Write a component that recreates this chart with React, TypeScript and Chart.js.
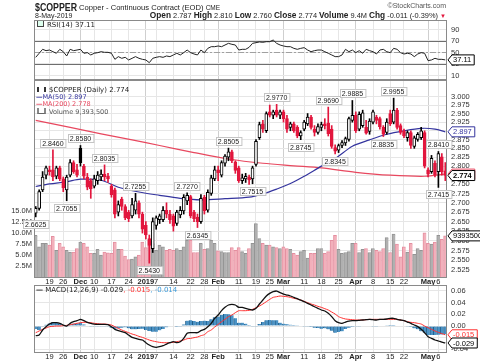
import React, { useEffect, useRef } from 'react';
import { Chart, registerables } from 'chart.js';

Chart.register(...registerables);

const FONT = '"Liberation Sans", Arial, sans-serif';
const LEG = '"DejaVu Sans", Verdana, sans-serif';

// ---- categories (trading days) ----
const NOV = [13, 14, 15, 16, 19, 20, 21, 23, 26, 27, 28, 29, 30];
const DEC = [3, 4, 6, 7, 10, 11, 12, 13, 14, 17, 18, 19, 20, 21, 24, 26, 27, 28, 31];
const JAN = [2, 3, 4, 7, 8, 9, 10, 11, 14, 15, 16, 17, 18, 22, 23, 24, 25, 28, 29, 30, 31];
const FEB = [1, 4, 5, 6, 7, 8, 11, 12, 13, 14, 15, 19, 20, 21, 22, 25, 26, 27, 28];
const MAR = [1, 4, 5, 6, 7, 8, 11, 12, 13, 14, 15, 18, 19, 20, 21, 22, 25, 26, 27, 28, 29];
const APR = [1, 2, 3, 4, 5, 8, 9, 10, 11, 12, 15, 16, 17, 18, 22, 23, 24, 25, 26, 29, 30];
const MAY = [1, 2, 3, 6, 7, 8];
const dates: string[] = [
  ...NOV.map((d) => `2018-11-${d}`),
  ...DEC.map((d) => `2018-12-${d}`),
  ...JAN.map((d) => `2019-01-${d}`),
  ...FEB.map((d) => `2019-02-${d}`),
  ...MAR.map((d) => `2019-03-${d}`),
  ...APR.map((d) => `2019-04-${d}`),
  ...MAY.map((d) => `2019-05-${d}`),
];

// ---- x tick labels ----
const xTickIdx = [4, 8, 13, 17, 22, 27, 32, 35, 40, 45, 49, 53, 59, 64, 68, 72, 78, 83, 88, 93, 98, 103, 107, 114, 117];
const xTickText = ['19', '26', 'Dec', '10', '17', '24', '2019', '7', '14', '22', '28', 'Feb', '11', '19', '25', 'Mar', '11', '18', '25', 'Apr', '8', '15', '22', 'May', '6'];
const xTickBold = ['Dec', '2019', 'Feb', 'Mar', 'Apr', 'May'];

// ---- OHLC ----
const opens = [
  2.672, 2.685, 2.735, 2.775, 2.790, 2.790, 2.772, 2.795, 2.765, 2.735,
  2.775, 2.810, 2.790, 2.850, 2.800, 2.770, 2.760, 2.745, 2.760, 2.770,
  2.778, 2.772, 2.745, 2.735, 2.675, 2.710, 2.690, 2.675, 2.665, 2.680,
  2.700, 2.670, 2.640, 2.606, 2.580, 2.640, 2.655, 2.655, 2.680, 2.670,
  2.665, 2.645, 2.668, 2.678, 2.705, 2.717, 2.675, 2.662, 2.650, 2.715,
  2.680, 2.725, 2.765, 2.790, 2.775, 2.808, 2.825, 2.840, 2.812, 2.795,
  2.760, 2.765, 2.770, 2.765, 2.805, 2.880, 2.920, 2.900, 2.955, 2.945,
  2.960, 2.945, 2.955, 2.935, 2.910, 2.920, 2.910, 2.885, 2.905, 2.920,
  2.940, 2.905, 2.895, 2.910, 2.920, 2.922, 2.905, 2.852, 2.845, 2.858,
  2.865, 2.875, 2.930, 2.945, 2.905, 2.915, 2.910, 2.898, 2.925, 2.940,
  2.935, 2.910, 2.895, 2.950, 2.925, 2.960, 2.915, 2.900, 2.880, 2.895,
  2.855, 2.875, 2.880, 2.895, 2.790, 2.785, 2.808, 2.785, 2.826, 2.787,
];
const highs = [
  2.690, 2.735, 2.785, 2.800, 2.800, 2.846, 2.800, 2.800, 2.770, 2.775,
  2.818, 2.815, 2.805, 2.858, 2.805, 2.780, 2.765, 2.775, 2.785, 2.790,
  2.8035, 2.780, 2.750, 2.740, 2.705, 2.715, 2.695, 2.680, 2.712, 2.7255,
  2.705, 2.675, 2.650, 2.615, 2.660, 2.665, 2.670, 2.690, 2.700, 2.680,
  2.670, 2.680, 2.690, 2.722, 2.727, 2.720, 2.680, 2.670, 2.722, 2.720,
  2.735, 2.775, 2.800, 2.800, 2.815, 2.832, 2.8505, 2.845, 2.815, 2.800,
  2.778, 2.780, 2.775, 2.800, 2.875, 2.925, 2.930, 2.955, 2.975, 2.960,
  2.977, 2.960, 2.960, 2.945, 2.925, 2.925, 2.915, 2.900, 2.930, 2.950,
  2.945, 2.915, 2.920, 2.925, 2.935, 2.969, 2.915, 2.860, 2.862, 2.872,
  2.882, 2.940, 2.9885, 2.955, 2.955, 2.960, 2.930, 2.935, 2.960, 2.945,
  2.940, 2.915, 2.935, 2.960, 2.9955, 2.965, 2.920, 2.905, 2.900, 2.900,
  2.885, 2.895, 2.910, 2.900, 2.795, 2.830, 2.815, 2.841, 2.835, 2.810,
];
const lows = [
  2.6625, 2.680, 2.730, 2.765, 2.775, 2.760, 2.765, 2.760, 2.730, 2.7055,
  2.770, 2.780, 2.770, 2.800, 2.765, 2.735, 2.712, 2.740, 2.750, 2.760,
  2.760, 2.755, 2.715, 2.660, 2.665, 2.680, 2.655, 2.650, 2.660, 2.670,
  2.660, 2.620, 2.605, 2.543, 2.570, 2.630, 2.645, 2.650, 2.660, 2.645,
  2.625, 2.640, 2.660, 2.670, 2.695, 2.660, 2.650, 2.6345, 2.645, 2.670,
  2.675, 2.720, 2.760, 2.760, 2.770, 2.800, 2.815, 2.810, 2.780, 2.755,
  2.752, 2.755, 2.750, 2.7515, 2.800, 2.875, 2.895, 2.895, 2.940, 2.935,
  2.940, 2.935, 2.925, 2.895, 2.900, 2.895, 2.880, 2.8745, 2.900, 2.915,
  2.905, 2.885, 2.890, 2.900, 2.905, 2.885, 2.850, 2.8345, 2.838, 2.852,
  2.858, 2.870, 2.925, 2.895, 2.900, 2.910, 2.890, 2.890, 2.920, 2.920,
  2.905, 2.8835, 2.890, 2.915, 2.920, 2.905, 2.890, 2.880, 2.870, 2.850,
  2.850, 2.870, 2.875, 2.795, 2.770, 2.780, 2.770, 2.7415, 2.775, 2.760,
];
const closes = [
  2.685, 2.730, 2.770, 2.795, 2.785, 2.770, 2.795, 2.765, 2.740, 2.770,
  2.810, 2.785, 2.775, 2.810, 2.772, 2.742, 2.738, 2.765, 2.775, 2.778,
  2.770, 2.765, 2.722, 2.670, 2.695, 2.690, 2.660, 2.658, 2.695, 2.705,
  2.670, 2.630, 2.615, 2.588, 2.650, 2.660, 2.665, 2.680, 2.670, 2.655,
  2.638, 2.675, 2.680, 2.715, 2.720, 2.665, 2.658, 2.650, 2.712, 2.678,
  2.728, 2.768, 2.790, 2.782, 2.810, 2.828, 2.840, 2.815, 2.788, 2.760,
  2.768, 2.772, 2.762, 2.795, 2.870, 2.918, 2.905, 2.950, 2.945, 2.955,
  2.945, 2.955, 2.935, 2.905, 2.920, 2.900, 2.885, 2.895, 2.925, 2.940,
  2.910, 2.895, 2.912, 2.918, 2.915, 2.892, 2.855, 2.842, 2.858, 2.866,
  2.878, 2.935, 2.945, 2.900, 2.948, 2.952, 2.893, 2.928, 2.955, 2.930,
  2.912, 2.890, 2.925, 2.920, 2.960, 2.910, 2.895, 2.885, 2.895, 2.858,
  2.880, 2.890, 2.900, 2.800, 2.778, 2.822, 2.776, 2.835, 2.785, 2.774,
];
// volume, millions
const volumesM = [
  9.5, 6.9, 7.7, 7.7, 7.3, 9.3, 6.1, 7.7, 6.9, 6.1,
  5.7, 5.7, 6.5, 8.0, 7.7, 6.9, 5.4, 5.4, 6.3, 5.0,
  5.7, 5.5, 5.4, 8.0, 6.3, 6.3, 4.8, 4.0, 4.1, 4.6,
  5.0, 8.0, 6.7, 8.5, 7.7, 6.1, 7.3, 6.9, 6.1, 6.3,
  6.1, 6.5, 6.1, 6.9, 8.4, 8.4, 5.6, 5.6, 7.7, 6.3,
  6.5, 8.4, 7.7, 6.0, 5.8, 5.6, 5.6, 6.7, 6.1, 6.7,
  5.8, 5.4, 6.5, 7.7, 12.2, 8.8, 7.7, 7.3, 7.3, 6.9,
  6.7, 6.5, 6.9, 6.5, 6.3, 5.4, 5.0, 5.8, 6.1, 4.3,
  5.4, 5.4, 6.5, 6.5, 5.4, 5.8, 8.4, 9.5, 6.3, 5.4,
  5.6, 5.8, 7.7, 7.7, 5.6, 6.3, 6.5, 5.6, 6.5, 6.1,
  5.8, 6.5, 9.0, 5.6, 9.8, 7.5, 4.6, 6.9, 5.7, 7.7,
  5.2, 6.5, 6.1, 10.1, 7.7, 7.5, 8.0, 9.5, 8.6, 9.3935,
];
// moving averages (index, value)
const ma50Idx = [0, 4, 9, 13, 19, 24, 30, 36, 42, 48, 55, 62, 66, 70, 74, 78, 83, 87, 92, 97, 102, 107, 112, 116, 119];
const ma50Val = [2.744, 2.751, 2.757, 2.764, 2.761, 2.742, 2.729, 2.720, 2.712, 2.708, 2.711, 2.715, 2.724, 2.737, 2.752, 2.772, 2.800, 2.821, 2.856, 2.874, 2.890, 2.900, 2.907, 2.905, 2.897];
const ma200Idx = [0, 10, 19, 28, 36, 46, 56, 66, 75, 83, 93, 103, 113, 119];
const ma200Val = [2.930, 2.910, 2.891, 2.874, 2.858, 2.838, 2.820, 2.808, 2.801, 2.795, 2.783, 2.775, 2.772, 2.778];

const rsi = [
  41.6, 48.6, 55.5, 53.2, 54.3, 51.4, 48.6, 55.5, 51.4, 43.9,
  55.5, 53.2, 54.3, 55.5, 48.6, 49.7, 45.7, 48.6, 49.7, 51.4,
  50.3, 50.3, 48.6, 38.1, 42.8, 39.9, 41.6, 37.0, 39.9, 42.8,
  39.9, 38.1, 37.0, 32.3, 39.9, 41.6, 42.8, 41.6, 43.9, 42.8,
  45.7, 48.6, 45.7, 49.7, 54.3, 49.7, 47.4, 45.7, 54.3, 49.7,
  57.2, 60.1, 60.1, 61.3, 60.1, 63.0, 65.9, 64.2, 63.0, 54.3,
  55.5, 55.5, 59.0, 65.9, 67.1, 68.3, 67.7, 68.8, 68.8, 71.7,
  65.9, 63.0, 61.3, 60.1, 60.1, 57.2, 55.5, 57.2, 58.4, 54.3,
  51.4, 53.2, 54.3, 54.3, 51.4, 48.6, 45.7, 42.8, 42.8, 45.7,
  55.5, 51.4, 54.3, 49.7, 53.2, 48.6, 55.5, 53.2, 51.4, 47.4,
  54.3, 55.5, 51.4, 49.7, 57.2, 55.5, 49.7, 47.4, 48.6, 47.4,
  42.8, 47.4, 49.7, 48.6, 35.8, 37.0, 39.9, 38.1, 38.1, 37.11,
];
const macd = [
  -0.0165, -0.0154, -0.0068, -0.0011, 0.0034, 0.0057, 0.0057, 0.0046, 0.0017, 0.0000,
  0.0046, 0.0074, 0.0091, 0.0114, 0.0091, 0.0063, 0.0046, 0.0034, 0.0028, 0.0028,
  0.0028, 0.0023, -0.0011, -0.0057, -0.0080, -0.0097, -0.0114, -0.0154, -0.0194, -0.0211,
  -0.0228, -0.0239, -0.0285, -0.0325, -0.0353, -0.0365, -0.0353, -0.0336, -0.0308, -0.0285,
  -0.0268, -0.0285, -0.0268, -0.0211, -0.0125, -0.0114, -0.0114, -0.0114, -0.0080, -0.0057,
  -0.0011, 0.0046, 0.0131, 0.0188, 0.0262, 0.0319, 0.0359, 0.0370, 0.0359, 0.0319,
  0.0319, 0.0302, 0.0285, 0.0274, 0.0302, 0.0376, 0.0444, 0.0513, 0.0558, 0.0587,
  0.0598, 0.0570, 0.0547, 0.0530, 0.0513, 0.0490, 0.0467, 0.0444, 0.0416, 0.0387,
  0.0359, 0.0330, 0.0302, 0.0274, 0.0256, 0.0217, 0.0160, 0.0091, 0.0057, 0.0046,
  0.0068, 0.0085, 0.0091, 0.0091, 0.0097, 0.0103, 0.0108, 0.0114, 0.0108, 0.0103,
  0.0114, 0.0114, 0.0120, 0.0131, 0.0131, 0.0114, 0.0103, 0.0091, 0.0068, 0.0046,
  0.0017, -0.0011, -0.0057, -0.0114, -0.0182, -0.0211, -0.0239, -0.0256, -0.0275, -0.0290,
];
const signal = [
  -0.0114, -0.0085, -0.0057, -0.0034, -0.0011, -0.0006, 0.0000, 0.0000, 0.0006, 0.0011,
  0.0023, 0.0034, 0.0046, 0.0057, 0.0063, 0.0063, 0.0057, 0.0046, 0.0040, 0.0034,
  0.0034, 0.0028, 0.0017, -0.0011, -0.0040, -0.0068, -0.0091, -0.0114, -0.0137, -0.0154,
  -0.0177, -0.0194, -0.0217, -0.0239, -0.0256, -0.0268, -0.0279, -0.0285, -0.0285, -0.0285,
  -0.0279, -0.0268, -0.0256, -0.0239, -0.0217, -0.0211, -0.0199, -0.0188, -0.0165, -0.0148,
  -0.0097, -0.0068, -0.0017, 0.0028, 0.0074, 0.0114, 0.0160, 0.0188, 0.0228, 0.0262,
  0.0262, 0.0262, 0.0268, 0.0285, 0.0313, 0.0342, 0.0376, 0.0416, 0.0456, 0.0490,
  0.0501, 0.0513, 0.0507, 0.0501, 0.0490, 0.0473, 0.0462, 0.0444, 0.0422, 0.0399,
  0.0376, 0.0359, 0.0336, 0.0319, 0.0296, 0.0274, 0.0239, 0.0205, 0.0160, 0.0137,
  0.0120, 0.0114, 0.0108, 0.0103, 0.0103, 0.0103, 0.0108, 0.0114, 0.0114, 0.0114,
  0.0114, 0.0114, 0.0114, 0.0114, 0.0114, 0.0114, 0.0103, 0.0091, 0.0074, 0.0063,
  0.0057, 0.0046, 0.0034, 0.0000, -0.0028, -0.0057, -0.0085, -0.0108, -0.0131, -0.0150,
];

// annotated highs / lows
const hiIdx = [5, 13, 20, 29, 44, 56, 70, 85, 92, 104, 117];
const hiVal = [2.846, 2.858, 2.8035, 2.7255, 2.727, 2.8505, 2.977, 2.969, 2.9885, 2.9955, 2.841];
const loIdx = [0, 9, 33, 47, 63, 77, 87, 101, 117];
const loVal = [2.6625, 2.7055, 2.543, 2.6345, 2.7515, 2.8745, 2.8345, 2.8835, 2.7415];

// axis ticks
const priceTicks = [2.525, 2.55, 2.575, 2.6, 2.625, 2.65, 2.675, 2.7, 2.725, 2.75, 2.775, 2.8, 2.825, 2.85, 2.875, 2.9, 2.925, 2.95, 2.975, 3.0];
const volTicksM = [2.5, 5, 7.5, 10, 12.5, 15];
const rsiTicks = [10, 30, 50, 70, 90];
const macdTicks = [-0.04, -0.02, 0, 0.02, 0.04, 0.06];

const RED = '#e2163d';
const BLUE = '#34349e';
const MA200C = '#e8485f';

function xScale(show: boolean): any {
  return {
    type: 'category',
    offset: true,
    border: { display: false },
    grid: {
      offset: false,
      drawTicks: false,
      color: (c: any) => (xTickBold.includes(xTickText[c.index]) ? '#cfcfcf' : '#e6e6e6'),
    },
    afterBuildTicks: (s: any) => {
      s.ticks = xTickIdx.map((v) => ({ value: v }));
    },
    afterFit: (s: any) => {
      s.height = show ? 10 : 0;
    },
    ticks: {
      display: show,
      autoSkip: false,
      maxRotation: 0,
      padding: 0,
      color: '#222',
      font: (c: any) => ({ family: FONT, size: 7.5, weight: xTickBold.includes(xTickText[c.index]) ? 'bold' : 'normal' }),
      callback: (_v: any, i: number) => xTickText[i],
    },
  };
}

function rightAxis(ticks: number[], fmt: (v: number) => string, extra: any): any {
  return {
    position: 'right',
    border: { display: false },
    grid: { color: '#e6e6e6', drawTicks: false },
    afterBuildTicks: (s: any) => {
      s.ticks = ticks.map((v) => ({ value: v }));
    },
    afterFit: (s: any) => {
      s.width = 33;
    },
    ticks: { autoSkip: false, padding: 4, color: '#333', font: { family: FONT, size: 7.5 }, callback: (v: any) => fmt(Number(v)) },
    ...extra,
  };
}

function drawTag(ctx: CanvasRenderingContext2D, x: number, y: number, text: string, stroke: string, color: string, bold = false) {
  ctx.save();
  ctx.font = `${bold ? 'bold ' : ''}7.5px ${FONT}`;
  const tw = ctx.measureText(text).width;
  const h = 10;
  const x1 = x + tw + 8;
  ctx.beginPath();
  ctx.moveTo(x, y);
  ctx.lineTo(x + 4, y - h / 2);
  ctx.lineTo(x1, y - h / 2);
  ctx.lineTo(x1, y + h / 2);
  ctx.lineTo(x + 4, y + h / 2);
  ctx.closePath();
  ctx.fillStyle = '#fff';
  ctx.fill();
  ctx.strokeStyle = stroke;
  ctx.lineWidth = 1;
  ctx.stroke();
  ctx.fillStyle = color;
  ctx.textAlign = 'left';
  ctx.textBaseline = 'middle';
  ctx.fillText(text, x + 5, y + 0.5);
  ctx.restore();
}

function drawNote(ctx: CanvasRenderingContext2D, x: number, y: number, text: string, above: boolean) {
  ctx.save();
  ctx.font = `7px ${FONT}`;
  const w = ctx.measureText(text).width + 4;
  const h = 8;
  const bx = Math.round(x - w / 2) + 0.5;
  const by = Math.round(above ? y - 3 - h : y + 3) + 0.5;
  ctx.fillStyle = 'rgba(255,255,255,0.92)';
  ctx.fillRect(bx, by, w, h);
  ctx.strokeStyle = '#c4c4c4';
  ctx.lineWidth = 1;
  ctx.strokeRect(bx, by, w, h);
  ctx.fillStyle = '#222';
  ctx.textAlign = 'center';
  ctx.textBaseline = 'middle';
  ctx.fillText(text, x, by + h / 2 + 0.5);
  ctx.restore();
}

function drawBorder(chart: any) {
  const { ctx, chartArea: a } = chart;
  ctx.save();
  ctx.strokeStyle = '#8a8a8a';
  ctx.lineWidth = 1;
  ctx.strokeRect(a.left + 0.5, a.top + 0.5, a.right - a.left - 1, a.bottom - a.top);
  ctx.restore();
}

const base: any = {
  responsive: false,
  animation: false,
  events: [],
  plugins: { legend: { display: false }, tooltip: { enabled: false } },
};

export default function App() {
  const rsiRef = useRef<HTMLCanvasElement>(null);
  const mainRef = useRef<HTMLCanvasElement>(null);
  const macdRef = useRef<HTMLCanvasElement>(null);

  useEffect(() => {
    const charts: Chart[] = [];
    const n = closes.length;
    const up = closes.map((c, i) => c >= (i > 0 ? closes[i - 1] : opens[i]));
    const cColor = up.map((u) => (u ? '#000' : RED));
    const bodyFill = closes.map((c, i) => (c > opens[i] ? '#fff' : cColor[i]));
    const volFill = up.map((u) => (u ? '#b0b0b0' : '#f2b0bb'));
    const volEdge = up.map((u) => (u ? '#949494' : '#e48fa0'));

    // ---- RSI ----
    charts.push(
      new Chart(rsiRef.current!, {
        type: 'line',
        data: {
          labels: dates,
          datasets: [{ data: rsi, borderColor: '#222', borderWidth: 1, pointRadius: 0, tension: 0 }],
        },
        options: {
          ...base,
          layout: { padding: { top: 10, bottom: 10, left: 34, right: 0 } },
          scales: {
            x: xScale(false),
            y: rightAxis(rsiTicks, (v) => String(v), { min: 3.9, max: 106.5 }),
          },
        },
        plugins: [
          {
            id: 'rsiDeco',
            beforeDatasetsDraw(chart: any) {
              const { ctx, chartArea: a, scales } = chart;
              const y = scales.y;
              ctx.save();
              ctx.strokeStyle = '#6e6e6e';
              ctx.lineWidth = 1;
              [70, 30].forEach((v) => {
                const p = Math.round(y.getPixelForValue(v)) + 0.5;
                ctx.beginPath();
                ctx.moveTo(a.left, p);
                ctx.lineTo(a.right, p);
                ctx.stroke();
              });
              ctx.strokeStyle = '#a0a0a0';
              ctx.setLineDash([6, 2, 2, 2]);
              const p = Math.round(y.getPixelForValue(50)) + 0.5;
              ctx.beginPath();
              ctx.moveTo(a.left, p);
              ctx.lineTo(a.right, p);
              ctx.stroke();
              ctx.restore();
            },
            afterDatasetsDraw(chart: any) {
              drawBorder(chart);
              const { ctx, chartArea: a, scales } = chart;
              const last = rsi[n - 1];
              drawTag(ctx, a.right + 1, scales.y.getPixelForValue(last), last.toFixed(2), '#000', '#000');
            },
          },
        ],
      } as any)
    );

    // ---- main price + volume ----
    charts.push(
      new Chart(mainRef.current!, {
        type: 'bar',
        data: {
          labels: dates,
          datasets: [
            {
              type: 'bar',
              data: opens.map((o, i) => [o, closes[i]]),
              backgroundColor: bodyFill,
              borderColor: cColor,
              borderWidth: 1,
              borderSkipped: false,
              barThickness: 3,
              minBarLength: 1,
              grouped: false,
              yAxisID: 'y',
              order: 0,
            },
            {
              type: 'bar',
              data: lows.map((l, i) => [l, highs[i]]),
              backgroundColor: cColor,
              borderWidth: 0,
              barThickness: 1,
              grouped: false,
              yAxisID: 'y',
              order: 1,
            },
            {
              type: 'line',
              data: ma50Idx.map((ix, k) => ({ x: dates[ix], y: ma50Val[k] })),
              borderColor: BLUE,
              borderWidth: 1.2,
              pointRadius: 0,
              tension: 0.3,
              yAxisID: 'y',
              order: 2,
            },
            {
              type: 'line',
              data: ma200Idx.map((ix, k) => ({ x: dates[ix], y: ma200Val[k] })),
              borderColor: MA200C,
              borderWidth: 1.2,
              pointRadius: 0,
              tension: 0.3,
              yAxisID: 'y',
              order: 3,
            },
            {
              type: 'bar',
              data: volumesM.map((v) => v * 1e6),
              backgroundColor: volFill,
              borderColor: volEdge,
              borderWidth: { left: 1, right: 0, top: 1, bottom: 0 },
              barThickness: 3.4,
              grouped: false,
              yAxisID: 'vol',
              order: 4,
            },
          ],
        },
        options: {
          ...base,
          layout: { padding: { top: 10, bottom: 2, left: 0, right: 0 } },
          scales: {
            x: xScale(true),
            y: rightAxis(priceTicks, (v) => v.toFixed(3), { type: 'logarithmic', min: 2.5083, max: 3.0499 }),
            vol: {
              type: 'linear',
              position: 'left',
              min: 0,
              max: 45e6,
              border: { display: false },
              grid: { display: false, drawTicks: false },
              afterBuildTicks: (s: any) => {
                s.ticks = volTicksM.map((v) => ({ value: v * 1e6 }));
              },
              afterFit: (s: any) => {
                s.width = 34;
              },
              ticks: {
                autoSkip: false,
                padding: 2,
                color: '#333',
                font: { family: FONT, size: 7.5 },
                callback: (v: any) => (Number(v) / 1e6).toFixed(1) + 'M',
              },
            },
          },
        },
        plugins: [
          {
            id: 'mainDeco',
            afterDatasetsDraw(chart: any) {
              drawBorder(chart);
              const { ctx, chartArea: a, scales } = chart;
              const xs = scales.x;
              const ys = scales.y;
              hiIdx.forEach((ix, k) => drawNote(ctx, xs.getPixelForValue(ix), ys.getPixelForValue(hiVal[k]), hiVal[k].toFixed(4), true));
              loIdx.forEach((ix, k) => drawNote(ctx, xs.getPixelForValue(ix), ys.getPixelForValue(loVal[k]), loVal[k].toFixed(4), false));
              const m50 = ma50Val[ma50Val.length - 1];
              const m200 = ma200Val[ma200Val.length - 1];
              const cl = closes[n - 1];
              const vl = volumesM[n - 1] * 1e6;
              drawTag(ctx, a.right + 1, ys.getPixelForValue(m50), m50.toFixed(3), BLUE, BLUE);
              drawTag(ctx, a.right + 1, scales.vol.getPixelForValue(vl), String(Math.round(vl)), '#000', '#000');
              drawTag(ctx, a.right + 1, ys.getPixelForValue(m200), m200.toFixed(3), MA200C, MA200C);
              drawTag(ctx, a.right + 1, ys.getPixelForValue(cl), cl.toFixed(3), '#000', '#000', true);
            },
          },
        ],
      } as any)
    );

    // ---- MACD ----
    charts.push(
      new Chart(macdRef.current!, {
        type: 'bar',
        data: {
          labels: dates,
          datasets: [
            {
              type: 'line',
              data: macd,
              borderColor: '#111',
              borderWidth: 1.3,
              pointRadius: 0,
              tension: 0.2,
              order: 0,
            },
            {
              type: 'line',
              data: signal,
              borderColor: '#ff3030',
              borderWidth: 1,
              pointRadius: 0,
              tension: 0.2,
              order: 1,
            },
            {
              type: 'bar',
              data: macd.map((m, i) => m - signal[i]),
              backgroundColor: '#4b93c6',
              borderColor: '#1f5e8a',
              borderWidth: { left: 1, right: 0, top: 0, bottom: 0 },
              borderSkipped: false,
              barThickness: 3.4,
              grouped: false,
              order: 2,
            },
          ],
        },
        options: {
          ...base,
          layout: { padding: { top: 10, bottom: 1, left: 34, right: 0 } },
          scales: {
            x: xScale(true),
            y: rightAxis(macdTicks, (v) => v.toFixed(2), { min: -0.0444, max: 0.0701 }),
          },
        },
        plugins: [
          {
            id: 'macdDeco',
            afterDatasetsDraw(chart: any) {
              drawBorder(chart);
              const { ctx, chartArea: a, scales } = chart;
              const s = signal[n - 1];
              const m = macd[n - 1];
              drawTag(ctx, a.right + 1, scales.y.getPixelForValue(s), s.toFixed(3), '#ff3030', '#ff3030');
              drawTag(ctx, a.right + 1, scales.y.getPixelForValue(m), m.toFixed(3), '#000', '#000');
            },
          },
        ],
      } as any)
    );

    return () => charts.forEach((c) => c.destroy());
  }, []);

  const abs = (left: number, top: number, extra: any = {}): any => ({
    position: 'absolute',
    left,
    top,
    whiteSpace: 'nowrap',
    ...extra,
  });
  const lastClose = closes[closes.length - 1];
  const lastVol = volumesM[volumesM.length - 1] * 1e6;
  const lb = { fontSize: 8.3 };

  return (
    <div style={{ position: 'fixed', left: 0, top: 0, width: 480, height: 363, background: '#fff', overflow: 'hidden', fontFamily: FONT, color: '#222' }}>
      <canvas ref={rsiRef} width={480} height={79} style={{ position: 'absolute', left: 0, top: 10, display: 'block' }} />
      <canvas ref={mainRef} width={480} height={219} style={{ position: 'absolute', left: 0, top: 70, display: 'block' }} />
      <canvas ref={macdRef} width={480} height={88} style={{ position: 'absolute', left: 0, top: 275, display: 'block' }} />

      {/* header */}
      <div style={abs(35, 1, { fontSize: 11, lineHeight: '12px', fontWeight: 'bold', transform: 'scaleX(0.8)', transformOrigin: 'left top' })}>$COPPER</div>
      <div style={abs(79, 3, { fontSize: 7.6, lineHeight: '9px' })}>
        Copper - Continuous Contract (EOD) <span style={{ fontSize: 6.5 }}>CME</span>
      </div>
      <div style={abs(0, 1, { left: 'auto', right: 34, fontSize: 7, lineHeight: '9px', color: '#555' })}>©StockCharts.com</div>
      <div style={abs(35, 11, { fontSize: 7, lineHeight: '9px' })}>8-May-2019</div>
      <div style={abs(0, 11, { left: 'auto', right: 34, fontSize: 7.4, lineHeight: '9px' })}>
        <b style={lb}>Open</b> 2.787 <b style={lb}>High</b> 2.810 <b style={lb}>Low</b> 2.760 <b style={lb}>Close</b> {lastClose.toFixed(3)}{' '}
        <b style={lb}>Volume</b> 9.4M <b style={lb}>Chg</b> -0.011 (-0.39%) <span style={{ color: RED, fontSize: 6 }}>▼</span>
      </div>

      {/* RSI legend */}
      <div style={abs(37, 21, { fontFamily: LEG, fontSize: 7, lineHeight: '8px' })}>
        <span style={{ display: 'inline-block', width: 5, height: 5, border: '1px solid #444', borderTop: 'none', marginRight: 3, background: '#dfe' }} />
        RSI(14) {rsi[rsi.length - 1].toFixed(2)}
      </div>

      {/* main legend */}
      <div style={abs(37, 86, { fontFamily: LEG, fontSize: 7, lineHeight: '8px' })}>
        <span style={{ display: 'inline-block', width: 5, height: 5, borderLeft: '2px solid #333', borderRight: '2px solid #333', marginRight: 3 }} />
        $COPPER (Daily) {lastClose.toFixed(3)}
      </div>
      <div style={abs(36, 94, { fontFamily: LEG, fontSize: 6.5, lineHeight: '7px', color: BLUE })}>
        <span style={{ fontWeight: 'bold' }}>—</span>MA(50) {ma50Val[ma50Val.length - 1].toFixed(3)}
      </div>
      <div style={abs(36, 101, { fontFamily: LEG, fontSize: 6.5, lineHeight: '7px', color: MA200C })}>
        <span style={{ fontWeight: 'bold' }}>—</span>MA(200) {ma200Val[ma200Val.length - 1].toFixed(3)}
      </div>
      <div style={abs(37, 108, { fontFamily: LEG, fontSize: 6.5, lineHeight: '7px', color: '#555' })}>
        <span style={{ display: 'inline-block', width: 5, height: 5, borderBottom: '1px solid #666', borderLeft: '2px solid #888', borderRight: '2px solid #888', marginRight: 3 }} />
        Volume {Math.round(lastVol).toLocaleString('en-US')}
      </div>

      {/* MACD legend */}
      <div style={abs(36, 286, { fontFamily: LEG, fontSize: 7, lineHeight: '8px' })}>
        <span style={{ fontWeight: 'bold' }}>—</span> MACD(12,26,9) {macd[macd.length - 1].toFixed(3)}
        <span style={{ color: '#ff3030' }}>, {signal[signal.length - 1].toFixed(3)}</span>
        <span style={{ color: '#3b9ad8' }}>, {(macd[macd.length - 1] - signal[signal.length - 1]).toFixed(3)}</span>
      </div>
    </div>
  );
}
